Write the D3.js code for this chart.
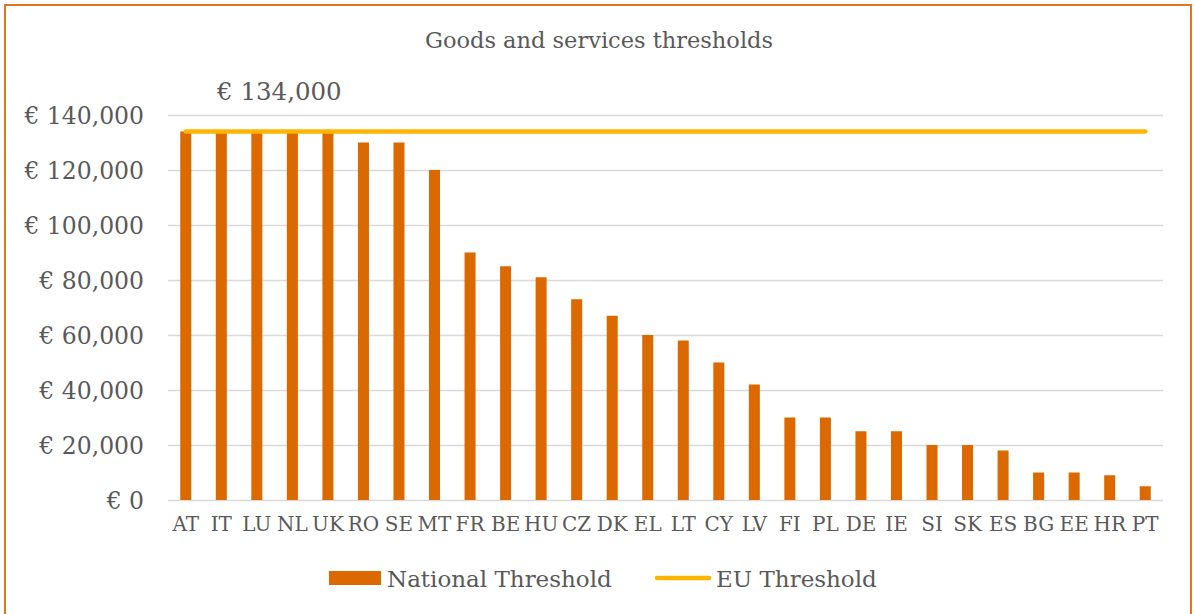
<!DOCTYPE html>
<html>
<head>
<meta charset="utf-8">
<script src="https://cdn.jsdelivr.net/npm/d3@7"></script>
<style>
  html, body { margin: 0; padding: 0; background: #ffffff; }
  svg { display: block; }
  text { font-family: "DejaVu Serif", "Liberation Serif", serif; fill: #595959; }
</style>
</head>
<body>
<div id="chart"></div>
<script>
// ---- Data ----
const title = "Goods and services thresholds";
const categories = ["AT","IT","LU","NL","UK","RO","SE","MT","FR","BE","HU","CZ","DK","EL","LT","CY","LV","FI","PL","DE","IE","SI","SK","ES","BG","EE","HR","PT"];
const nationalThreshold = [134000,134000,134000,134000,134000,130000,130000,120000,90000,85000,81000,73000,67000,60000,58000,50000,42000,30000,30000,25000,25000,20000,20000,18000,10000,10000,9000,5000];
const euThresholdValue = 134000;
const euThreshold = categories.map(() => euThresholdValue);
const yTicks = [0,20000,40000,60000,80000,100000,120000,140000];
const seriesNames = ["National Threshold","EU Threshold"];
const euLabel = "€ 134,000";

// ---- Layout ----
const W = 1194, H = 614;
const plot = { left: 168, right: 1163, top: 115, bottom: 500 };
const colors = { bar: "#DC6900", line: "#FFB400", border: "#E27521", grid: "#D9D9D9", text: "#595959" };

const svg = d3.select("#chart").append("svg").attr("width", W).attr("height", H);

// outer border
svg.append("rect")
  .attr("x", 5).attr("y", 5).attr("width", 1186).attr("height", 620)
  .attr("fill", "none").attr("stroke", colors.border).attr("stroke-width", 2);

// title
svg.append("text")
  .attr("x", 599).attr("y", 48)
  .attr("text-anchor", "middle")
  .style("font-size", "22.5px")
  .text(title);

const x = d3.scaleBand()
  .domain(categories)
  .range([plot.left, plot.right])
  .paddingInner(0.69)
  .paddingOuter(0.345);

const y = d3.scaleLinear()
  .domain([0, 140000])
  .range([plot.bottom, plot.top]);

// gridlines + y labels via axis
const yAxis = d3.axisLeft(y)
  .tickValues(yTicks)
  .tickSize(-(plot.right - plot.left))
  .tickPadding(24)
  .tickFormat(d => "€ " + d3.format(",")(d));

const gy = svg.append("g")
  .attr("transform", `translate(${plot.left},0)`)
  .call(yAxis);
gy.select(".domain").remove();
gy.selectAll(".tick line").attr("stroke", colors.grid).attr("stroke-width", 1.5);
gy.selectAll(".tick text")
  .attr("fill", colors.text)
  .attr("dy", "0.36em")
  .style("font-size", "23.5px")
  .style("font-family", '"DejaVu Serif", serif');

// bars
svg.append("g").selectAll("rect")
  .data(categories)
  .join("rect")
  .attr("x", d => x(d))
  .attr("width", x.bandwidth())
  .attr("y", (d, i) => y(nationalThreshold[i]))
  .attr("height", (d, i) => y(0) - y(nationalThreshold[i]))
  .attr("fill", colors.bar);

// x axis labels
const xAxis = d3.axisBottom(x).tickSize(0).tickPadding(17);
const gx = svg.append("g")
  .attr("transform", `translate(0,${plot.bottom})`)
  .call(xAxis);
gx.select(".domain").remove();
gx.selectAll(".tick text")
  .attr("fill", colors.text)
  .style("font-size", "20px")
  .style("font-family", '"DejaVu Serif", serif');

// EU threshold line
const line = d3.line()
  .x((d, i) => x(categories[i]) + x.bandwidth() / 2)
  .y(d => y(d));
svg.append("path")
  .datum(euThreshold)
  .attr("d", line)
  .attr("fill", "none")
  .attr("stroke", colors.line)
  .attr("stroke-width", 4.5)
  .attr("stroke-linecap", "round");

// EU threshold label
svg.append("text")
  .attr("x", 217).attr("y", 100)
  .style("font-size", "24.5px")
  .text(euLabel);

// legend
const leg = svg.append("g");
leg.append("rect")
  .attr("x", 329).attr("y", 571).attr("width", 52).attr("height", 14)
  .attr("fill", colors.bar);
leg.append("text")
  .attr("x", 387).attr("y", 587)
  .style("font-size", "23px")
  .text(seriesNames[0]);
leg.append("line")
  .attr("x1", 657).attr("x2", 709).attr("y1", 578).attr("y2", 578)
  .attr("stroke", colors.line).attr("stroke-width", 4.5).attr("stroke-linecap", "round");
leg.append("text")
  .attr("x", 716).attr("y", 587)
  .style("font-size", "23px")
  .text(seriesNames[1]);
</script>
</body>
</html>
